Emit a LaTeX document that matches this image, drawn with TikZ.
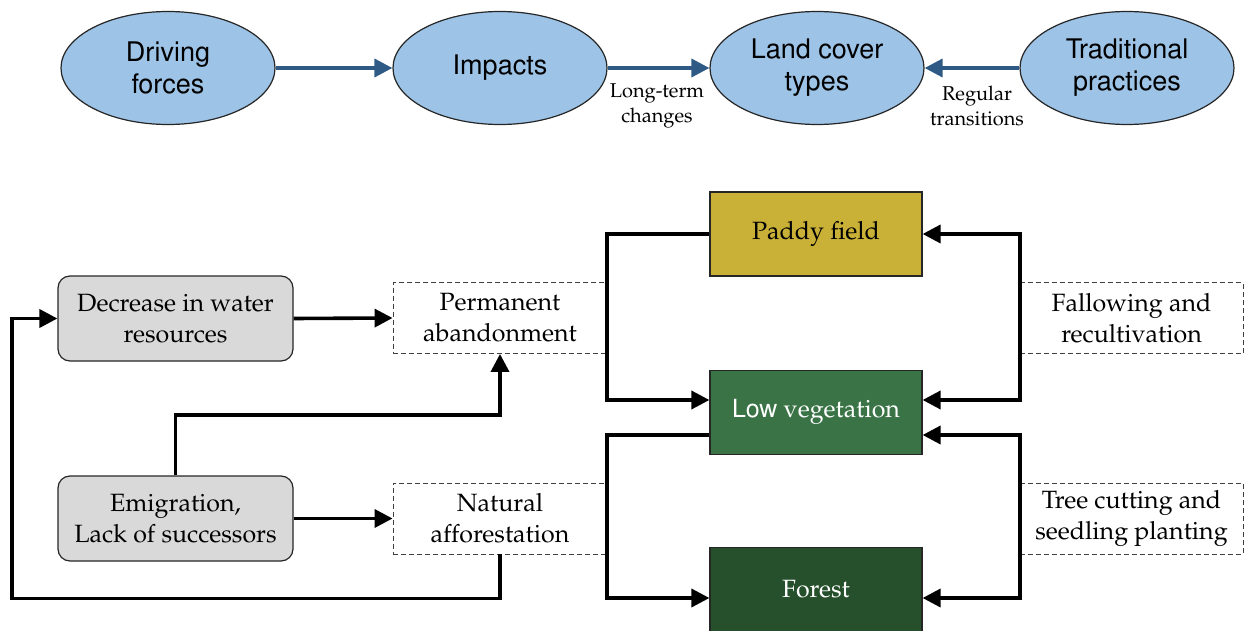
\documentclass[tikz,border=0pt]{standalone}
\usepackage[T1]{fontenc}
\usepackage{mathpazo}
\usepackage{helvet}
\usetikzlibrary{arrows.meta,shapes.geometric}

\definecolor{ellfill}{HTML}{9DC3E6}
\definecolor{flowblue}{HTML}{2E5A85}
\definecolor{paddyfill}{HTML}{C9B037}
\definecolor{lowfill}{HTML}{3A7446}
\definecolor{forestfill}{HTML}{264F2B}
\definecolor{driverfill}{HTML}{D9D9D9}

\tikzset{
  ell/.style={ellipse, draw=black!85, line width=1.2pt, fill=ellfill,
    minimum width=214pt, minimum height=113pt, inner sep=0pt, align=center,
    font=\sffamily\fontsize{27}{32}\selectfont},
  flow/.style={draw=flowblue, line width=3.6pt,
    -{Triangle[length=18pt,width=18pt]}},
  tag/.style={align=center, font=\fontsize{20}{25}\selectfont},
  driver/.style={rectangle, rounded corners=12pt, draw=black!85, line width=1.2pt,
    fill=driverfill, minimum width=235pt, minimum height=85pt, align=center,
    font=\fontsize{25}{31}\selectfont},
  cover/.style={rectangle, draw=black!85, line width=1.2pt,
    minimum width=212pt, minimum height=84pt, inner sep=0pt,
    font=\fontsize{25}{31}\selectfont},
  process/.style={rectangle, draw=black!75, line width=0.9pt,
    dash pattern=on 5pt off 3pt, minimum height=71pt, inner sep=0pt,
    align=center, font=\fontsize{25}{31}\selectfont},
  link/.style={line width=3.6pt, -{Triangle[length=18pt,width=18pt]}},
  twoway/.style={line width=3.6pt,
    {Triangle[length=18pt,width=18pt]}-{Triangle[length=18pt,width=18pt]}},
}

\begin{document}
\begin{tikzpicture}[x=1pt,y=-1pt]
\useasboundingbox (0,0) rectangle (1245,631);

% conceptual chain
\node[ell] (drv) at (168,68) {Driving\\forces};
\node[ell] (imp) at (500,68) {Impacts};
\node[ell] (lct) at (817,68) {Land cover\\types};
\node[ell] (trd) at (1127,68) {Traditional\\practices};

\draw[flow] (drv) -- (imp);
\draw[flow] (imp.east) -- (lct.west);
\draw[flow] (trd.west) -- (lct.east);
\node[tag] (ltc) at (657,106) {Long-term\\changes};
\node[tag] (rgt) at (977,106) {Regular\\transitions};

% land cover types
\node[cover, fill=paddyfill] (pad) at (816,234) {Paddy field};
\node[cover, fill=lowfill, text=white] (low) at (816,412.5) {{\sffamily Low} vegetation};
\node[cover, fill=forestfill, text=white] (for) at (816,589.5) {Forest};

% drivers
\node[driver] (dec) at (175.5,318.5) {Decrease in water\\resources};
\node[driver] (emi) at (175.5,518.5) {Emigration,\\Lack of successors};

% transition processes
\node[process, minimum width=214pt] (perm) at (500,318) {Permanent\\abandonment};
\node[process, minimum width=214pt] (nat) at (500,518.5) {Natural\\afforestation};
\node[process, minimum width=223pt] (fal) at (1131.5,318) {Fallowing and\\recultivation};
\node[process, minimum width=223pt] (tree) at (1131.5,518.5) {Tree cutting and\\seedling planting};

% loop columns
\coordinate (lx) at (607,0);
\coordinate (rx) at (1020,0);

% paddy field <-> low vegetation
\draw[link] (pad.west) -- (pad.west -| lx) |- ([yshift=12.5pt]low.west);
\draw[twoway] ([yshift=12.5pt]low.east) -- ([yshift=12.5pt]low.east -| rx)
  |- (pad.east);

% low vegetation <-> forest
\draw[link] ([yshift=-22.5pt]low.west) -- ([yshift=-22.5pt]low.west -| lx)
  |- ([yshift=-8.5pt]for.west);
\draw[twoway] ([yshift=-22.5pt]low.east) -- ([yshift=-22.5pt]low.east -| rx)
  |- ([yshift=-8.5pt]for.east);

% drivers -> processes
\coordinate (upturn) at (500,415);
\coordinate (lowrun) at (12,598.5);
\draw[link] (dec.east) -- (perm.west);
\draw[link] (emi.east) -- (nat.west);
\draw[link] (emi.north) |- (upturn) -- (perm.south);
\draw[link] (nat.south) |- (lowrun) |- (dec.west);
\end{tikzpicture}
\end{document}
